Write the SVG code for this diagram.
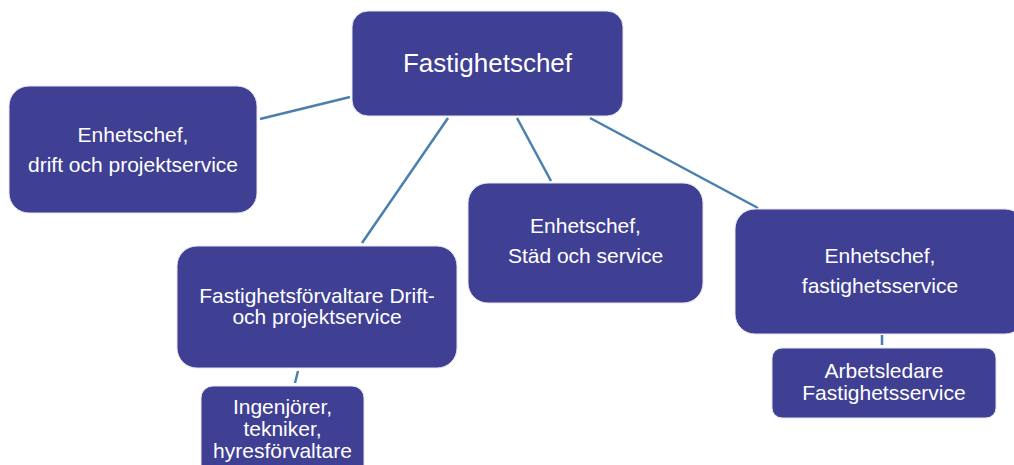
<svg xmlns="http://www.w3.org/2000/svg" width="1014" height="465" viewBox="0 0 1014 465">
<style>
.box{fill:#3F3F94;stroke:#e6e6f0;stroke-width:1}
.t{font-family:"Liberation Sans",Arial,sans-serif;font-size:21px;fill:#ffffff;text-anchor:middle}
.big{font-size:26px}
.c{stroke:#4A7FAE;stroke-width:2.5;fill:none}
</style>
<rect width="1014" height="465" fill="#ffffff"/>
<g id="connectors">
<line class="c" x1="350" y1="97" x2="260" y2="119"/>
<line class="c" x1="448" y1="118" x2="362" y2="243"/>
<line class="c" x1="517" y1="118" x2="551" y2="181"/>
<line class="c" x1="590" y1="118" x2="758" y2="208"/>
<line class="c" x1="298" y1="371" x2="295" y2="383"/>
<line class="c" x1="882" y1="335" x2="882" y2="345"/>
</g>
<g id="fastighetschef">
<rect class="box" x="352" y="11" width="271" height="105" rx="16"/>
<text class="t big" x="487.5" y="72">Fastighetschef</text>
</g>
<g id="enhetschef-drift">
<rect class="box" x="9" y="86" width="248" height="127" rx="20"/>
<text class="t" x="133" y="142">Enhetschef,</text>
<text class="t" x="133" y="172">drift och projektservice</text>
</g>
<g id="fastighetsforvaltare">
<rect class="box" x="177" y="246" width="280" height="122" rx="20"/>
<text class="t" x="317" y="303">Fastighetsförvaltare Drift-</text>
<text class="t" x="317" y="324">och projektservice</text>
</g>
<g id="ingenjorer">
<rect class="box" x="201" y="386" width="163" height="100" rx="12"/>
<text class="t" x="282.5" y="414">Ingenjörer,</text>
<text class="t" x="282.5" y="436">tekniker,</text>
<text class="t" x="282.5" y="458">hyresförvaltare</text>
</g>
<g id="enhetschef-stad">
<rect class="box" x="468" y="183" width="235" height="120" rx="20"/>
<text class="t" x="585.5" y="233">Enhetschef,</text>
<text class="t" x="585.5" y="263">Städ och service</text>
</g>
<g id="enhetschef-fastighetsservice">
<rect class="box" x="735" y="209" width="290" height="125" rx="20"/>
<text class="t" x="880" y="263">Enhetschef,</text>
<text class="t" x="880" y="293">fastighetsservice</text>
</g>
<g id="arbetsledare">
<rect class="box" x="772" y="348" width="224" height="70" rx="10"/>
<text class="t" x="884" y="378">Arbetsledare</text>
<text class="t" x="884" y="400">Fastighetsservice</text>
</g>
</svg>
